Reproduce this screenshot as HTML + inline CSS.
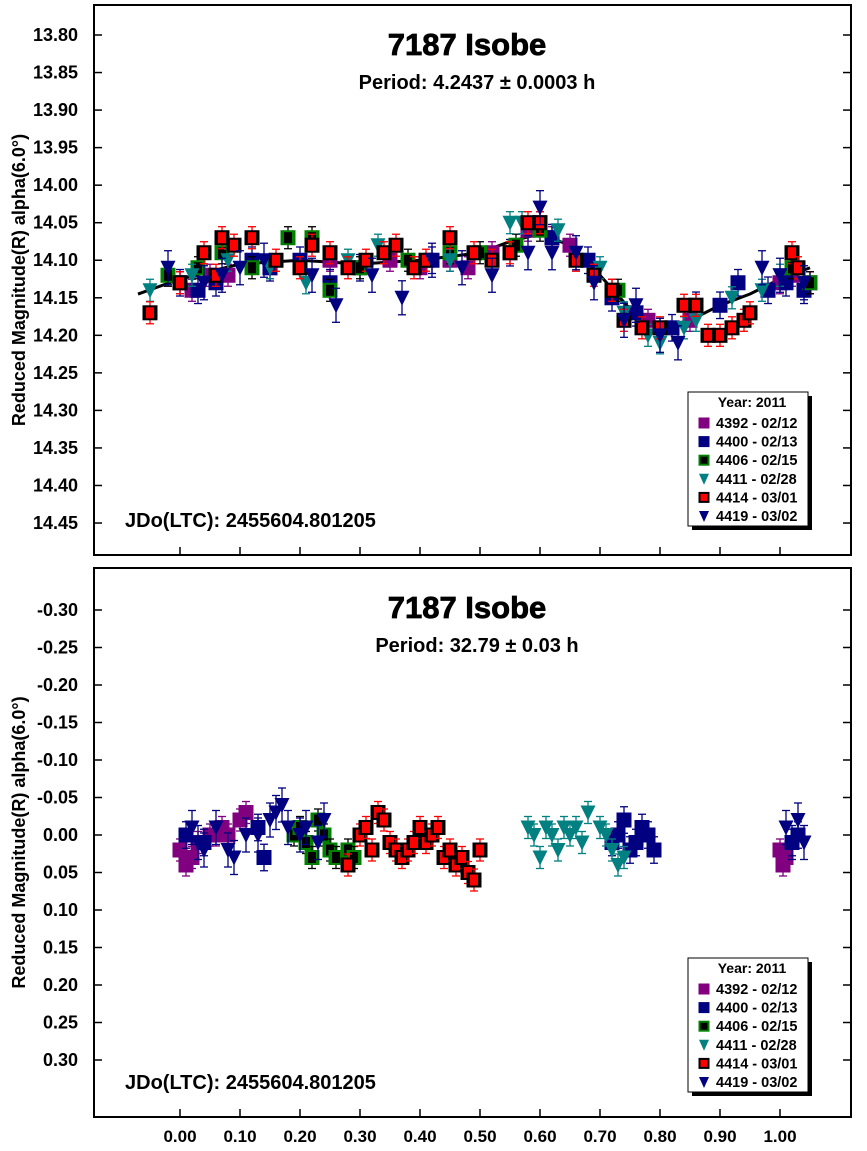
<!DOCTYPE html>
<html><head><meta charset="utf-8"><style>
body{margin:0;background:#fff}
svg{display:block;font-family:"Liberation Sans",Arial,sans-serif;font-weight:bold}
</style></head><body>
<svg id="chart" width="867" height="1151" viewBox="0 0 867 1151" xmlns="http://www.w3.org/2000/svg"></svg>
<script>
// ---- data ----
const seriesNames=["4392 - 02/12","4400 - 02/13","4406 - 02/15","4411 - 02/28","4414 - 03/01","4419 - 03/02"];
const xTicks=[0,0.1,0.2,0.3,0.4,0.5,0.6,0.7,0.8,0.9,1.0];
const topYTicks=[13.80,13.85,13.90,13.95,14.00,14.05,14.10,14.15,14.20,14.25,14.30,14.35,14.40,14.45];
const botYTicks=[-0.30,-0.25,-0.20,-0.15,-0.10,-0.05,0.00,0.05,0.10,0.15,0.20,0.25,0.30];
const errs=[0.012,0.015,0.012,0.012,0.012,0.02];
// top panel
const t0x=[0.0,0.02,0.05,0.08,0.15,0.25,0.35,0.40,0.45,0.48,0.52,0.58,0.60,0.62,0.65,0.72,0.78,0.85,1.00,1.02,1.05];
const t0y=[14.13,14.14,14.12,14.12,14.11,14.10,14.10,14.11,14.10,14.11,14.09,14.06,14.05,14.07,14.08,14.14,14.18,14.18,14.13,14.12,14.13];
const t1x=[0.0,0.03,0.06,0.12,0.15,0.20,0.25,0.30,0.42,0.55,0.62,0.68,0.72,0.76,0.82,0.86,0.90,0.93,0.98,1.01,1.04];
const t1y=[14.13,14.14,14.13,14.10,14.11,14.10,14.13,14.11,14.10,14.09,14.07,14.10,14.15,14.17,14.19,14.16,14.16,14.13,14.14,14.13,14.14];
const t2x=[-0.02,0.03,0.07,0.12,0.18,0.22,0.25,0.30,0.38,0.45,0.50,0.56,0.60,0.73,1.02,1.05];
const t2y=[14.12,14.11,14.09,14.11,14.07,14.07,14.14,14.11,14.10,14.09,14.09,14.08,14.06,14.14,14.11,14.13];
const t3x=[-0.05,0.02,0.08,0.15,0.21,0.28,0.33,0.45,0.55,0.57,0.63,0.70,0.74,0.78,0.80,0.84,0.86,0.92,0.97,1.0];
const t3y=[14.14,14.12,14.10,14.11,14.13,14.10,14.08,14.10,14.05,14.05,14.06,14.11,14.17,14.20,14.21,14.19,14.18,14.15,14.14,14.12];
const t4x=[-0.05,0.0,0.04,0.06,0.07,0.09,0.12,0.16,0.2,0.22,0.25,0.28,0.31,0.34,0.36,0.39,0.41,0.45,0.49,0.52,0.55,0.58,0.6,0.66,0.69,0.72,0.74,0.77,0.8,0.84,0.86,0.88,0.9,0.92,0.94,0.95,1.02,1.03];
const t4y=[14.17,14.13,14.09,14.12,14.07,14.08,14.07,14.10,14.11,14.08,14.09,14.11,14.10,14.09,14.08,14.11,14.10,14.07,14.09,14.10,14.09,14.05,14.05,14.10,14.12,14.14,14.18,14.19,14.19,14.16,14.16,14.20,14.20,14.19,14.18,14.17,14.09,14.11];
const t5x=[-0.02,0.04,0.07,0.10,0.14,0.22,0.26,0.32,0.37,0.42,0.47,0.52,0.58,0.60,0.62,0.66,0.69,0.74,0.76,0.80,0.83,0.97,1.0,1.04];
const t5y=[14.11,14.13,14.12,14.11,14.10,14.12,14.16,14.12,14.15,14.10,14.11,14.12,14.09,14.03,14.09,14.09,14.13,14.18,14.16,14.20,14.21,14.11,14.12,14.13];
const fitX=[-0.07,0.0,0.1,0.2,0.3,0.4,0.5,0.55,0.6,0.65,0.7,0.75,0.8,0.85,0.9,0.95,1.0,1.05];
const fitY=[14.145,14.125,14.105,14.100,14.105,14.100,14.090,14.075,14.065,14.080,14.120,14.165,14.190,14.180,14.160,14.145,14.125,14.110];
// bottom panel
const b0x=[0.0,0.01,0.02,0.03,0.05,0.06,0.07,0.08,0.10,0.11,1.0,1.005,1.01];
const b0y=[0.02,0.04,0.03,0.01,0.00,0.0,-0.01,0.0,-0.02,-0.03,0.02,0.04,0.03];
const b1x=[0.01,0.04,0.13,0.14,0.72,0.73,0.74,0.75,0.76,0.77,0.78,0.79,1.02,1.03];
const b1y=[0.0,0.01,-0.01,0.03,0.01,0.0,-0.02,0.02,0.01,-0.01,0.0,0.02,0.01,0.0];
const b2x=[0.19,0.20,0.21,0.22,0.23,0.24,0.25,0.26,0.28,0.29];
const b2y=[0.0,-0.01,0.01,0.03,-0.02,0.0,0.02,0.03,0.02,0.03];
const b3x=[0.58,0.59,0.60,0.61,0.62,0.63,0.64,0.65,0.66,0.67,0.68,0.70,0.71,0.72,0.73,0.74];
const b3y=[-0.01,0.00,0.03,-0.01,0.0,0.02,-0.01,0.0,-0.01,0.01,-0.03,-0.01,0.0,0.02,0.04,0.03];
const b4x=[0.28,0.3,0.31,0.32,0.33,0.34,0.35,0.36,0.37,0.38,0.39,0.40,0.41,0.42,0.43,0.44,0.45,0.46,0.47,0.48,0.49,0.50];
const b4y=[0.04,0.0,-0.01,0.02,-0.03,-0.02,0.01,0.02,0.03,0.02,0.01,-0.01,0.01,0.0,-0.01,0.03,0.02,0.04,0.03,0.05,0.06,0.02];
const b5x=[0.02,0.03,0.04,0.06,0.08,0.09,0.11,0.13,0.15,0.16,0.17,0.18,0.2,0.21,0.23,0.24,1.01,1.02,1.03,1.04];
const b5y=[-0.01,0.01,0.02,-0.01,0.02,0.03,0.0,0.0,-0.02,-0.03,-0.04,-0.01,0.0,-0.01,0.01,-0.02,-0.01,0.01,-0.02,0.01];

// ---- drawing ----
const NS="http://www.w3.org/2000/svg";
const svg=document.getElementById('chart');
function mk(tag,attrs,parent){const e=document.createElementNS(NS,tag);for(const k in attrs)e.setAttribute(k,attrs[k]);(parent||svg).appendChild(e);return e;}
const xS=p=>180+600*p;
const styles=[
 {shape:'sq',fill:'#800080',inner:null,err:'#800080'},
 {shape:'sq',fill:'#000080',inner:null,err:'#000080'},
 {shape:'sq',fill:'#008000',inner:'#000',err:'#000'},
 {shape:'tri',fill:'#008080',err:'#008080'},
 {shape:'sq',fill:'#000',inner:'#ff0000',err:'#ff0000'},
 {shape:'tri',fill:'#000080',err:'#000080'}];

function panel(top,bot,yTicks,yS,tickFmt,period,xs,ys,fit,legY,name){
  const g=mk('g',{});
  
  
  const fr=mk('rect',{x:94,y:top,width:757,height:bot-top,fill:'#fff',stroke:'#000','stroke-width':2},g);
  
  
  yTicks.forEach(v=>{const y=yS(v);
    mk('line',{x1:94,x2:102,y1:y,y2:y,stroke:'#000','stroke-width':1.5},g);
    mk('line',{x1:843,x2:851,y1:y,y2:y,stroke:'#000','stroke-width':1.5},g);
    const t=mk('text',{x:78,y:y+6,'text-anchor':'end','font-size':18},g);t.textContent=tickFmt(v);
    
    });
  xTicks.forEach(p=>{mk('line',{x1:xS(p),x2:xS(p),y1:bot,y2:bot-8,stroke:'#000','stroke-width':1.5},g);});
  const ttl=mk('text',{x:467,y:top+50,'text-anchor':'middle','font-size':31,'stroke':'#000','stroke-width':0.8},g);ttl.textContent='7187 Isobe';
  
  
  const pt=mk('text',{x:477,y:top+84,'text-anchor':'middle','font-size':20},g);pt.textContent=period;
  
  
  const yt=mk('text',{x:0,y:0,'text-anchor':'middle','font-size':18,transform:`translate(25,${(top+bot)/2}) rotate(-90)`},g);yt.textContent='Reduced Magnitude(R) alpha(6.0°)';
  
  
  const jd=mk('text',{x:125,y:bot-28,'font-size':20},g);jd.textContent='JDo(LTC): 2455604.801205';
  
  
  if(fit){const d=fit[0].map((p,i)=>(i?'L':'M')+xS(p)+','+yS(fit[1][i])).join(' ');
    const fl=mk('path',{d,fill:'none',stroke:'#000','stroke-width':3},g);
    
    }
  xs.forEach((arr,si)=>{const st=styles[si];
    arr.forEach((p,i)=>{const cx=xS(p),cy=yS(ys[si][i]);const e=Math.abs(yS(errs[si])-yS(0));
      mk('line',{x1:cx,x2:cx,y1:cy-e-2,y2:cy+e+2,stroke:st.err,'stroke-width':1.3},g);
      mk('line',{x1:cx-4,x2:cx+4,y1:cy-e-2,y2:cy-e-2,stroke:st.err,'stroke-width':1.3},g);
      mk('line',{x1:cx-4,x2:cx+4,y1:cy+e+2,y2:cy+e+2,stroke:st.err,'stroke-width':1.3},g);
      let m;
      if(st.shape==='sq'){m=mk('rect',{x:cx-7.5,y:cy-7.5,width:15,height:15,fill:st.fill},g);
        if(st.inner)mk('rect',{x:cx-4,y:cy-5.5,width:8,height:11,fill:st.inner},g);}
      else m=mk('path',{d:`M${cx-7.5},${cy-7}L${cx+7.5},${cy-7}L${cx},${cy+8}Z`,fill:st.fill},g);
      
      
    });});
  // legend
  const lg=mk('g',{},g);
  
  
  mk('rect',{x:692,y:legY+4,width:120,height:134,fill:'#000'},lg);
  mk('rect',{x:688,y:legY,width:120,height:134,fill:'#fff',stroke:'#000','stroke-width':1},lg);
  const lt=mk('text',{x:752,y:legY+15,'text-anchor':'middle','font-size':14},lg);lt.textContent='Year: 2011';
  seriesNames.forEach((n,si)=>{const y=legY+31+si*18.6,cx=704,st=styles[si];
    if(st.shape==='sq'){mk('rect',{x:cx-5.5,y:y-5.5,width:11,height:11,fill:st.fill},lg);if(st.inner)mk('rect',{x:cx-3.5,y:y-3.5,width:7,height:7,fill:st.inner},lg);}
    else mk('path',{d:`M${cx-5},${y-5}L${cx+5},${y-5}L${cx},${y+6}Z`,fill:st.fill},lg);
    const t=mk('text',{x:716,y:y+5,'font-size':14.5},lg);t.textContent=n;
    
    });
}
const yTop=v=>35+(v-13.80)/0.05*37.54;
const yBot=v=>610+(v+0.30)/0.05*37.5;
panel(5,555,topYTicks,yTop,v=>v.toFixed(2),'Period: 4.2437 ± 0.0003 h',[t0x,t1x,t2x,t3x,t4x,t5x],[t0y,t1y,t2y,t3y,t4y,t5y],[fitX,fitY],392,'top-panel');
panel(568,1117,botYTicks,yBot,v=>v.toFixed(2),'Period: 32.79 ± 0.03 h',[b0x,b1x,b2x,b3x,b4x,b5x],[b0y,b1y,b2y,b3y,b4y,b5y],null,958,'bottom-panel');
xTicks.forEach(p=>{const t=mk('text',{x:xS(p),y:1142,'text-anchor':'middle','font-size':17});t.textContent=p.toFixed(2);
  
  });
</script>
</body></html>
